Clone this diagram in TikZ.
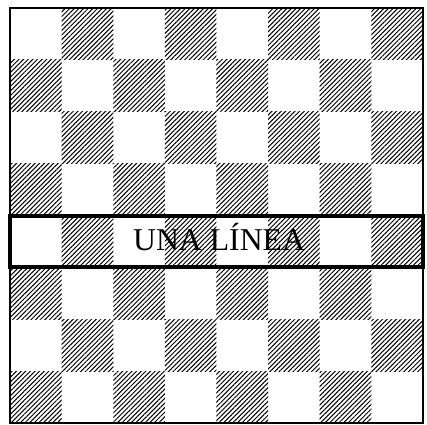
\documentclass[tikz,border=0pt]{standalone}
\usepackage{fontspec}
\setmainfont{Liberation Serif}
\usetikzlibrary{patterns.meta}

\begin{document}
\begin{tikzpicture}[x=1cm, y=-1.005cm,
        hatched/.style={pattern={Lines[angle=45, distance=1.8pt, line width=0.55pt]}},
        board/.style={draw, line width=1.1pt},
        rowbox/.style={draw, line width=2.2pt},
        caption/.style={font=\fontsize{17.5}{20}\selectfont, inner sep=0pt},
    ]
    \useasboundingbox (-0.194,-0.155) rectangle (8.078,8.03);
    % hatched squares of the board
    \foreach \r in {1,...,8}
        \foreach \c in {1,...,8}{
            \pgfmathtruncatemacro{\odd}{mod(\r+\c,2)}
            \ifnum\odd=1
                \fill[hatched] (\c-1,\r-1) rectangle (\c,\r);
            \fi}
    \draw[board] (0,0) rectangle (8,8);
    % the marked row
    \draw[rowbox] (0,4) rectangle (8,5);
    \node[caption, anchor=base] (line) at (4.05,4.67) {UNA LÍNEA};
\end{tikzpicture}
\end{document}
